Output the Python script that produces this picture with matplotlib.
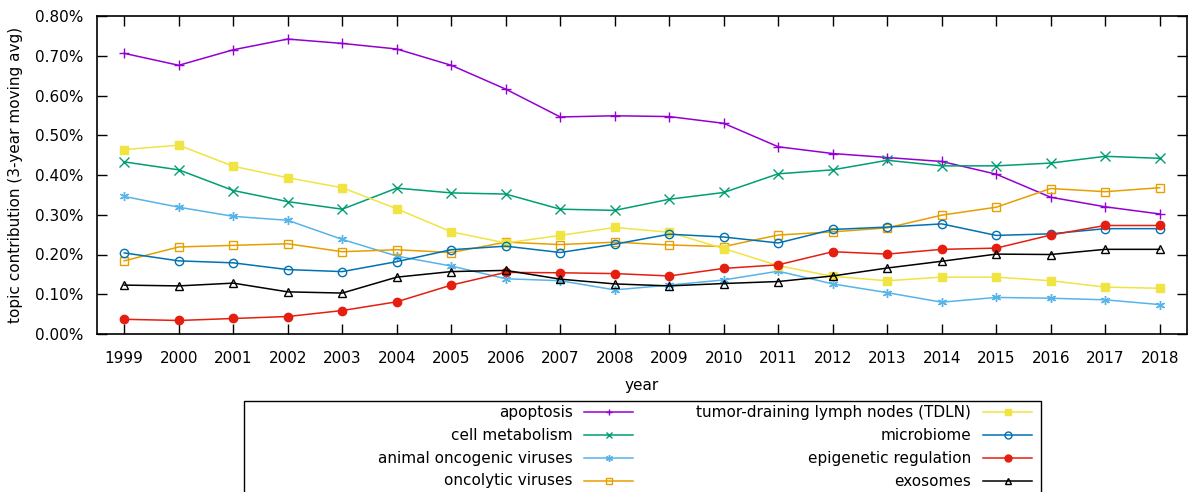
import matplotlib
matplotlib.use("Agg")
import matplotlib.pyplot as plt
from matplotlib.ticker import FuncFormatter
from matplotlib.lines import Line2D
from matplotlib.patches import Rectangle

plt.rcParams['font.family'] = ['DejaVu Sans']
plt.rcParams['font.size'] = 11

years = list(range(1999, 2019))

# topic contribution, in percent
apoptosis = [0.706, 0.676, 0.715, 0.742, 0.731, 0.717, 0.676, 0.616, 0.546, 0.549,
             0.547, 0.530, 0.471, 0.454, 0.444, 0.434, 0.402, 0.344, 0.320, 0.302]
cell_metabolism = [0.433, 0.413, 0.361, 0.333, 0.314, 0.367, 0.355, 0.352, 0.314, 0.311,
                   0.339, 0.356, 0.403, 0.413, 0.437, 0.423, 0.423, 0.430, 0.447, 0.442]
animal_viruses = [0.346, 0.319, 0.296, 0.286, 0.238, 0.196, 0.171, 0.139, 0.134, 0.111,
                  0.123, 0.136, 0.158, 0.126, 0.104, 0.080, 0.092, 0.090, 0.086, 0.074]
oncolytic = [0.184, 0.219, 0.223, 0.227, 0.207, 0.212, 0.205, 0.231, 0.225, 0.231,
             0.224, 0.220, 0.249, 0.257, 0.267, 0.299, 0.319, 0.366, 0.358, 0.368]
tdln = [0.464, 0.475, 0.422, 0.393, 0.368, 0.315, 0.257, 0.229, 0.248, 0.268,
        0.256, 0.215, 0.172, 0.145, 0.134, 0.143, 0.143, 0.134, 0.118, 0.115]
microbiome = [0.204, 0.184, 0.179, 0.162, 0.157, 0.182, 0.212, 0.221, 0.205, 0.226,
              0.251, 0.244, 0.229, 0.263, 0.269, 0.277, 0.248, 0.252, 0.265, 0.265]
epigenetic = [0.037, 0.034, 0.039, 0.044, 0.059, 0.081, 0.123, 0.155, 0.154, 0.152,
              0.146, 0.165, 0.174, 0.207, 0.201, 0.213, 0.216, 0.249, 0.273, 0.273]
exosomes = [0.123, 0.121, 0.128, 0.106, 0.103, 0.143, 0.157, 0.160, 0.138, 0.126,
            0.121, 0.127, 0.132, 0.146, 0.166, 0.183, 0.201, 0.200, 0.213, 0.213]

labels = ["apoptosis", "cell metabolism", "animal oncogenic viruses", "oncolytic viruses",
          "tumor-draining lymph nodes (TDLN)", "microbiome", "epigenetic regulation", "exosomes"]
series = [apoptosis, cell_metabolism, animal_viruses, oncolytic,
          tdln, microbiome, epigenetic, exosomes]

# gnuplot-like styles: (color, marker, filled)
styles = [("#9400D3", "+", True), ("#009E73", "x", True), ("#56B4E9", (6, 2, 0), True),
          ("#E69F00", "s", False), ("#F0E442", "s", True), ("#0072B2", "o", False),
          ("#E51E10", "o", True), ("#000000", "^", False)]

W, H = 1193, 492
fig = plt.figure(figsize=(W / 100, H / 100), dpi=100)
ax = fig.add_axes([97 / W, 1 - 334 / H, (1187 - 97) / W, (334 - 16) / H])

for vals, (c, m, filled) in zip(series, styles):
    ms = 6 if m not in ("+", "x", (6, 2, 0)) else 6.5
    ax.plot(years, vals, color=c, lw=1.1, marker=m, ms=ms, mew=1.0,
            mfc=c if filled else "none", mec=c)

ax.set_xlim(1998.5, 2018.5)
ax.set_ylim(0, 0.8)
ax.set_xticks(years)
ax.set_yticks([i / 10 for i in range(9)])
ax.yaxis.set_major_formatter(FuncFormatter(lambda v, p: "%.2f%%" % v))
ax.tick_params(direction="in", length=7, width=1, top=True, right=True)
ax.tick_params(axis="x", pad=12)
ax.tick_params(axis="y", pad=10)
for s in ax.spines.values():
    s.set_linewidth(1.2)
ax.set_xlabel("year", labelpad=9)
ax.set_ylabel("topic contribution (3-year moving avg)", labelpad=8)

# legend box, gnuplot style (labels right-aligned, sample on the right)
fig.patches.append(Rectangle((244 / W, -0.05), (1041 - 244) / W, 0.05 + 1 - 400.5 / H,
                             transform=fig.transFigure, fill=False, lw=1.0, ec="black"))
rows = [412, 435, 458, 481]
cols = [(573, 584, 633), (971, 983, 1032)]
for i, (lab, (c, m, filled)) in enumerate(zip(labels, styles)):
    tx, x0, x1 = cols[i // 4]
    y = 1 - rows[i % 4] / H
    fig.text(tx / W, y, lab, ha="right", va="center", fontsize=11)
    fig.lines.append(Line2D([x0 / W, x1 / W], [y, y], transform=fig.transFigure,
                            color=c, lw=1.1))
    fig.lines.append(Line2D([(x0 + x1) / 2 / W], [y], transform=fig.transFigure,
                            color=c, marker=m, ms=5, mew=1.0,
                            mfc=c if filled else "none", mec=c))

fig.savefig("out.png", dpi=100)
